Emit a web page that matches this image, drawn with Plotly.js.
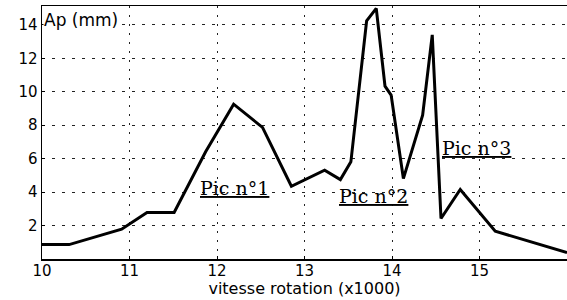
<!DOCTYPE html>
<html>
<head>
<meta charset="utf-8">
<script src="https://cdn.plot.ly/plotly-3.0.1.min.js"></script>
<style>html,body{margin:0;padding:0;background:#fff;}#chart{width:567px;height:300px;}</style>
</head>
<body>
<div id="chart"></div>
<script>
// Vitesse de rotation (x1000 tr/min) and Ap (mm)
var vitesse = [10.0, 10.31, 10.91, 11.2, 11.51, 11.87, 12.19, 12.52, 12.85, 13.23, 13.41, 13.53, 13.71, 13.82, 13.92, 13.99, 14.13, 14.35, 14.46, 14.56, 14.78, 15.18, 16.0];
var ap      = [0.86, 0.86, 1.78, 2.78, 2.78, 6.41, 9.26, 7.87, 4.35, 5.31, 4.75, 5.81, 14.25, 14.99, 10.34, 9.80, 4.81, 8.60, 13.40, 2.42, 4.16, 1.66, 0.38];

var xTicks = [10, 11, 12, 13, 14, 15];
var yTicks = [2, 4, 6, 8, 10, 12, 14];

var picLabels = ["Pic n°1", "Pic n°2", "Pic n°3"];
var picX = [12.205, 13.786, 14.97];
var picY = [4.26, 3.78, 6.66];

var trace = {
  x: vitesse, y: ap, type: 'scatter', mode: 'lines',
  line: {color: '#000', width: 3}, hoverinfo: 'skip'
};

var annotations = picLabels.map(function (t, i) {
  return {
    x: picX[i], y: picY[i], xref: 'x', yref: 'y', text: t, showarrow: false,
    xanchor: 'center', yanchor: 'middle',
    font: {family: 'DejaVu Serif, Liberation Serif, serif', size: 19, color: '#000', lineposition: 'under'}
  };
});
annotations.push({
  x: 0, y: 1, xref: 'paper', yref: 'paper', text: 'Ap (mm)', showarrow: false,
  xanchor: 'left', yanchor: 'top', xshift: 1, yshift: -3, bgcolor: '#fff', borderpad: 0,
  font: {family: 'DejaVu Sans, sans-serif', size: 17, color: '#000'}
});

var layout = {
  width: 567, height: 300,
  margin: {l: 42, r: 0, t: 6, b: 41, pad: 0},
  paper_bgcolor: '#fff', plot_bgcolor: '#fff',
  showlegend: false,
  font: {family: 'DejaVu Sans, sans-serif', color: '#000', size: 15},
  xaxis: {
    range: [10, 16], tickvals: xTicks, ticktext: xTicks.map(String),
    showgrid: true, gridcolor: '#222', griddash: '2px,7px', gridwidth: 1,
    zeroline: false, showline: true, linecolor: '#000', linewidth: 1.5, mirror: true,
    ticks: 'inside', ticklen: 3, tickcolor: '#000', ticklabelstandoff: -3,
    tickfont: {family: 'DejaVu Sans, sans-serif', size: 15, color: '#000'},
    title: {text: 'vitesse rotation (x1000)', standoff: 1, font: {family: 'DejaVu Sans, sans-serif', size: 16, color: '#000'}}
  },
  yaxis: {
    range: [0, 15.13], tickvals: yTicks, ticktext: yTicks.map(String),
    showgrid: true, gridcolor: '#222', griddash: '3px,7px', gridwidth: 1,
    zeroline: false, showline: true, linecolor: '#000', linewidth: 1.5, mirror: true,
    ticks: 'inside', ticklen: 3, tickcolor: '#000',
    tickfont: {family: 'DejaVu Sans, sans-serif', size: 15, color: '#000'}
  },
  annotations: annotations
};

Plotly.newPlot('chart', [trace], layout, {staticPlot: true, displayModeBar: false});
</script>
</body>
</html>
